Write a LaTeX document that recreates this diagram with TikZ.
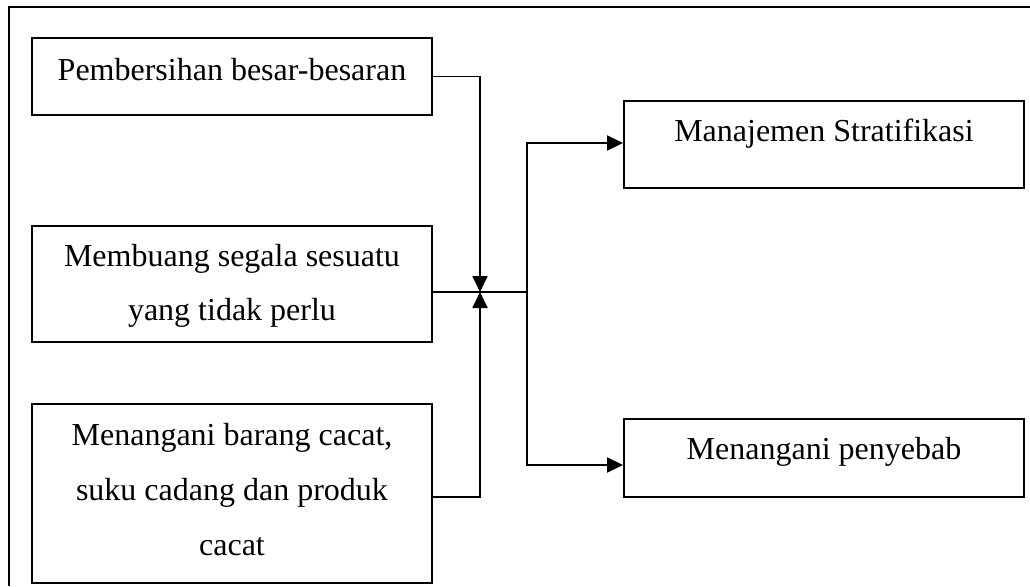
\documentclass[tikz,border=0pt]{standalone}
\usepackage{fontspec}
\setmainfont{Liberation Serif}
\usetikzlibrary{arrows.meta}
\newcommand{\topstrut}{\rule{0pt}{22pt}}
\newcommand{\botstrut}{\rule[-7pt]{0pt}{7pt}}
\begin{document}
\begin{tikzpicture}[x=1pt,y=-1pt,
  box/.style={draw,line width=1.9pt,minimum width=400pt,inner sep=0pt},
  txt/.style={inner sep=0pt,align=center,font=\fontsize{32}{54}\selectfont},
  txtb/.style={inner sep=0pt,align=center,font=\fontsize{32}{55}\selectfont},
  conn/.style={line width=1.9pt},
  arr/.style={line width=1.9pt,-{Triangle[length=16pt,width=15pt]}}]
\useasboundingbox (0,0) rectangle (1030,586);
% outer frame (top and left edges visible)
\draw[line width=1.9pt] (1030,7) -- (9,7) -- (9,586);
% left boxes
\node[box,minimum height=77pt] (b1) at (232,76.5) {};
\node[box,minimum height=116pt] (b2) at (232,284) {};
\node[box,minimum height=179pt] (b3) at (232,493.5) {};
% right boxes
\node[box,minimum height=87pt] (r1) at (824,144.5) {};
\node[box,minimum height=78pt] (r2) at (824,458) {};
% texts
\node[txt] (t1) at (232,72.5) {\topstrut Pembersihan besar-besaran\botstrut};
\node[txt] (t2) at (232,285.5) {\topstrut Membuang segala sesuatu\\ yang tidak perlu\botstrut};
\node[txtb] (t3) at (232,492.5) {\topstrut Menangani barang cacat,\\ suku cadang dan produk\\ cacat\botstrut};
\node[txt] (t4) at (824,133.5) {\topstrut Manajemen Stratifikasi\botstrut};
\node[txt] (t5) at (824,451.5) {\topstrut Menangani penyebab\botstrut};
% junction coordinates
\coordinate (j) at (480,292);
\coordinate (m) at (527,292);
% connectors
\draw[arr] (b1.east) -| (j);
\draw[arr] ([yshift=-3.5pt]b3.east) -| (j);
\draw[conn] (b2.east |- j) -- (m);
\draw[arr] (m) |- ([yshift=1.5pt]r1.west);
\draw[arr] (m) |- ([yshift=-7pt]r2.west);
\end{tikzpicture}
\end{document}
